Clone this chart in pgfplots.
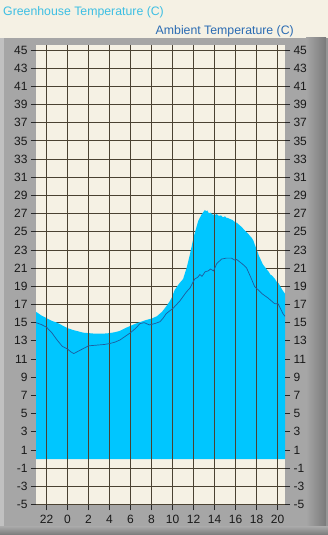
\documentclass[border=0pt]{standalone}
\usepackage{fontspec}
\setmainfont{Liberation Sans}
\usepackage{pgfplots}
\pgfplotsset{compat=1.18}
\definecolor{cream}{HTML}{F5F1E4}
\definecolor{framec}{HTML}{A6A6A6}
\definecolor{framedark}{HTML}{7A7A7A}
\definecolor{gh}{HTML}{00C6FF}
\definecolor{amb}{HTML}{1E5C9E}
\definecolor{gridc}{HTML}{4A4232}
\definecolor{ghtitle}{HTML}{3EBFE3}
\definecolor{ambtitle}{HTML}{2B6CB3}
\pgfplotstableread{
h t
-3.0 16.2
-2.5 15.8
-2.0 15.5
-1.5 15.2
-1.0 15.0
-0.5 14.7
0.0 14.4
0.5 14.2
1.0 14.05
1.5 13.9
2.0 13.85
2.5 13.8
3.0 13.8
3.5 13.8
4.0 13.85
4.5 13.95
5.0 14.1
5.5 14.4
6.0 14.65
6.5 14.9
7.0 15.1
7.5 15.3
8.0 15.45
8.5 15.7
9.0 16.2
9.4 16.8
9.7 17.3
9.9 17.7
10.2 18.6
10.5 19.1
10.7 19.4
11.0 19.8
11.33 21.0
11.65 22.5
11.96 24.2
12.12 24.9
12.44 26.2
12.76 26.9
12.95 27.2
13.08 27.4
13.2 27.25
13.3 27.35
13.45 27.05
13.6 27.1
13.8 26.9
14.03 26.85
14.2 26.95
14.4 26.75
14.6 26.8
14.8 26.6
15.0 26.7
15.1 26.55
15.3 26.5
15.46 26.4
15.7 26.3
15.9 26.1
16.1 26.0
16.4 25.7
16.6 25.5
16.9 25.1
17.1 24.9
17.4 24.5
17.55 24.3
17.7 24.0
17.85 23.5
18.0 23.1
18.2 22.4
18.4 21.9
18.6 21.4
18.8 21.1
19.0 20.8
19.15 20.6
19.3 20.3
19.45 20.2
19.6 20.0
19.75 19.8
19.9 19.5
20.05 19.4
20.2 19.1
20.35 18.8
20.5 18.5
20.7 18.2
}\ghdata
\pgfplotstableread{
h t
-3.0 15.0
-2.5 14.8
-2.0 14.5
-1.5 13.9
-1.0 13.1
-0.5 12.4
0.0 12.1
0.3 11.8
0.6 11.6
1.0 11.85
1.5 12.15
2.0 12.45
2.5 12.5
3.0 12.55
3.5 12.6
4.0 12.7
4.5 12.85
5.0 13.1
5.5 13.5
6.0 13.9
6.5 14.4
6.9 14.9
7.3 15.0
7.8 14.75
8.3 14.9
8.8 15.1
9.1 15.5
9.4 16.0
10.06 16.6
10.7 17.4
11.33 18.4
11.65 18.8
12.1 19.8
12.4 20.0
12.6 20.3
12.8 20.1
13.1 20.6
13.4 20.7
13.6 20.9
13.9 20.7
14.2 21.5
14.67 22.0
15.1 22.1
15.6 22.1
15.9 21.9
16.1 21.95
16.6 21.5
16.8 21.3
17.05 21.0
17.4 20.1
17.8 19.0
18.5 18.2
19.1 17.7
19.7 17.1
20.06 17.05
20.5 16.0
20.7 15.7
}\ambdata
\begin{document}
\begin{tikzpicture}[x=1pt,y=1pt]
\useasboundingbox (0,0) rectangle (328,535);
\fill[cream] (0,0) rectangle (328,535);
\fill[framec] (0,0) rectangle (328,497);
\shade[left color=framec, right color=framedark] (306,0) rectangle (326,497);
\fill[framedark!80] (326,0) rectangle (328,497);
\fill[framec!70!white] (0,0) rectangle (4,497);
\shade[top color=framec, bottom color=framedark] (0,0) rectangle (328,8);
\node[anchor=base west, text=ghtitle, font=\fontsize{12.3}{13}\selectfont, inner sep=0pt] at (3,519) {Greenhouse Temperature (C)};
\node[anchor=base east, text=ambtitle, font=\fontsize{12.3}{13}\selectfont, inner sep=0pt] at (294,500) {Ambient Temperature (C)};
\begin{axis}[
  at={(36pt,30pt)}, anchor=south west, scale only axis,
  width=249pt, height=460pt,
  xmin=-3, xmax=20.7, ymin=-5.06, ymax=45.55,
  axis background/.style={fill=cream},
  axis line style={draw=none},
  xtick={-2,0,2,4,6,8,10,12,14,16,18,20},
  xticklabels={22,0,2,4,6,8,10,12,14,16,18,20},
  ytick={-5,-3,...,45},
  ymajorgrids,
  grid style={draw=gridc, line width=0.9pt},
  tick align=outside, major tick length=5pt,
  tick style={draw=black!85, line width=0.8pt},
  xtick pos=bottom, ytick pos=left,
  ticklabel style={font=\fontsize{12}{12}\selectfont, text=black!90},
  xticklabel style={yshift=-2pt},
  /pgf/number format/assume math mode=true,
  clip=true,
]
\addplot[fill=gh, draw=none] table[x=h, y=t] {\ghdata} \closedcycle;
\end{axis}
\begin{axis}[
  at={(36pt,30pt)}, anchor=south west, scale only axis,
  width=249pt, height=460pt,
  xmin=-3, xmax=20.7, ymin=-5.06, ymax=45.55,
  axis line style={draw=none},
  xtick={-2,0,2,4,6,8,10,12,14,16,18,20},
  xticklabels={},
  ytick={-5,-3,...,45},
  xmajorgrids,
  grid style={draw=gridc, line width=0.9pt},
  tick align=outside, major tick length=5pt,
  tick style={draw=black!85, line width=0.8pt},
  xtick pos=bottom, ytick pos=right, yticklabel pos=right,
  ticklabel style={font=\fontsize{12}{12}\selectfont, text=black!90},
  /pgf/number format/assume math mode=true,
]
\addplot[amb, line width=0.7pt] table[x=h, y=t] {\ambdata};
\end{axis}
\end{tikzpicture}
\end{document}
